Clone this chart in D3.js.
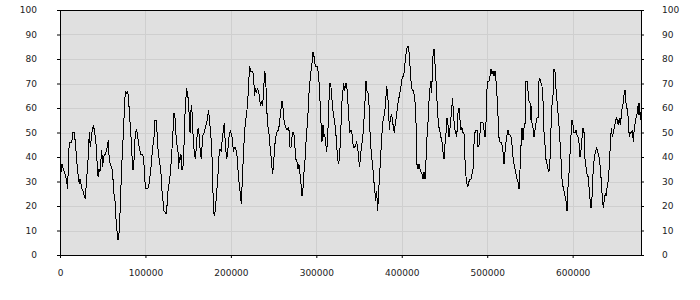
<!DOCTYPE html>
<meta charset="utf-8">
<head>
    <style>
     body { margin: 0; background: #fff; }
     #chart text { font-family: "DejaVu Sans", Verdana, sans-serif; font-size: 9px; fill: #222; }
    </style>
</head>
<body>
    <div id="chart"></div>
</body>
<script src="https://d3js.org/d3.v7.min.js"></script>
<script>

 // x positions of the series
 var xValues = [
     400, 2300, 3900, 5900, 7400, 9000, 10100, 11300, 13700, 15200, 16800, 17900, 19100, 20300, 21900, 22600,
     23400, 24600, 25800, 27300, 28500, 29700, 30400, 32000, 33200, 34300, 35500, 36700, 37800, 39000, 40200,
     41400, 42500, 43700, 44500, 45600, 46800, 48000, 48800, 49900, 51100, 52700, 53800, 55400, 56600, 57700,
     59300, 60900, 62000, 63200, 64400, 65500, 66700, 67900, 69400,
     70600, 71800, 73300, 74500, 75700, 76900, 78000, 79200, 80400, 81500, 82700, 83900, 85100, 86200, 87000,
     88200, 89300, 90500, 91700, 93200, 94800, 96400, 97900, 99100, 100300, 102600, 104200, 105700, 107300,
     108500, 110000, 111200, 112800, 113900, 115100, 116700, 118200, 119400, 120600, 121700, 124100, 125200,
     126400, 127600, 129100, 130700, 132300, 133400, 134600, 135800, 136900, 138100, 138900, 139700, 140500,
     141600, 142400, 143600, 144700, 145900, 147100, 148300, 149400, 150600, 151400, 152200, 152900, 154100,
     154900, 156100, 157200, 158400, 159600, 160700, 161900, 163100, 164200, 165400, 166200, 167400, 168900,
     170100, 171700, 172800, 173600, 174800, 176000, 177100, 178300, 179500, 180600,
     181800, 183000, 184100, 185300, 186500, 187700, 188800, 190000, 191200, 192300, 193500, 195100, 196200,
     197800, 199400, 200500, 201700, 202900, 204000, 205200, 206800, 207900, 209100, 210700, 212200, 213400,
     214600, 215700, 216900, 218500, 219600, 220800, 222000, 223200, 224300, 225500, 226700, 227500, 228600,
     229800, 231000, 232500, 233700, 234900, 236000, 237200, 238400, 239500, 240700, 241900, 243100, 244200,
     245400, 246600, 247700, 248900, 250100, 251200, 252400, 253600, 254800, 255900, 257100, 258300, 259400,
     260600, 261800, 263300, 264500, 265700, 266900, 268000, 269200, 270400, 271500, 272700, 273900, 275000,
     276200, 277400, 278600, 279700, 280900, 282100, 283200, 284400, 285600, 286800, 287900, 289100, 290300,
     291400, 292600, 293800, 294900, 296100, 297300, 298500, 299600, 300800, 302000, 303100, 304300, 305500,
     306600, 307800, 308600, 309800, 310900, 312100, 313300, 314500, 315600, 316800, 318000, 319100, 320300,
     321500, 322600, 323800, 325000, 326200, 327300, 328500, 329700, 330800, 332000, 333200, 334300, 335500,
     336700, 337900, 339000, 340200, 341400, 342500, 343700, 344900, 346100, 347200, 348400, 349600, 350700,
     351900, 353100, 354200, 355400, 356600,
     358100, 359300, 360900, 361700, 362400, 363600, 364800, 365900, 367100, 368300, 369500, 370600, 371800,
     373000, 374100, 375300, 376500, 377700, 378800, 380000, 381200, 382300, 383500, 384700, 385500, 386600,
     387800, 389000, 390100, 391300, 392500, 393600, 394800, 396000, 397200, 398300, 399500, 400700, 401800,
     403000, 404200, 405400, 406500, 407700, 408900, 410000, 411200, 412400, 413500, 414700, 415900, 417100,
     417800, 419000, 420200, 421300, 422500, 423700, 424900, 426000, 427200, 428400, 429500, 430700, 431900,
     433000, 434200, 435000, 436200, 437300, 438100, 438900, 440100, 441200, 442400, 443600, 444800, 445900,
     447100, 448300, 449400, 450600, 451800, 452900, 454100, 455300, 456500, 457600, 458800, 459600, 460400,
     461500, 462700, 463900, 465000, 465800, 467000, 468200, 469300, 470500, 471700, 472800, 474000, 475200,
     476400, 477500, 478700, 479900, 481000, 482200, 483400, 484500, 485700, 486900, 488100, 489200, 490400,
     491600, 492700, 493900, 495100, 496300, 497400, 498600, 499800, 500900, 502100, 503300, 504400, 505600,
     506800, 508000, 509100, 510300, 511500, 512600, 513800, 515000, 516100, 517300, 518500, 519700, 520800,
     522000, 523200, 524300, 525500, 526700, 527900, 529000, 530200, 531400, 532500, 533700, 534900, 536000,
     537200, 538400, 539600, 540700, 541900, 543100,
     544200, 545400, 546600, 547700, 548900, 550100, 550900, 551600, 552400, 553600, 554800, 555900, 557100,
     558300, 559500, 560600, 561800, 563000, 564100, 565300, 566500, 567600, 568800, 570000, 571200, 572300,
     573500, 574700, 575800, 577000, 578200, 579300, 580500, 581700, 582900, 584000, 585200, 586400, 587500,
     588700, 589900, 591100, 592200, 593400, 594600, 595700, 596900, 598100, 599200, 600400, 601600, 602800,
     603900, 605100, 606300, 607400, 608600, 609800, 611000, 612100, 613300, 614500, 615600, 616800, 618000,
     619100, 620300, 621500, 622700, 623400, 624600, 625800, 626900, 628100, 629300, 630500, 631600, 632800,
     634000, 635100, 635900, 637100, 638300, 639400, 640600, 641800, 642900, 644100, 645300, 646500, 647600,
     648800, 650000, 651100, 652300, 653500, 654600, 655800, 657000, 658200, 659300, 660500, 661700, 662800,
     664000, 665200, 666300, 667500, 668700, 669900, 671000, 672200, 673400, 674500, 675700, 676900, 677700,
     678400, 679200
 ];

 // values of the series (0-100)
 var yValues = [
     32, 37, 35, 33, 31, 27, 42, 46, 46, 50, 50, 46, 41, 35, 31, 29,
     31, 29, 27, 26, 24, 23, 27, 35, 41, 50, 44, 48, 51, 53, 51,
     48, 44, 36, 32, 35, 34, 39, 43, 36, 40, 41, 42, 44, 47, 38,
     37, 35, 31, 25, 22, 15, 10, 6, 10,
     20, 33, 44, 52, 63, 67, 66, 67, 63, 56, 51, 43, 35, 35, 42,
     50, 51, 50, 46, 43, 41, 41, 40, 31, 27, 27, 29, 33, 39,
     44, 48, 55, 55, 48, 41, 38, 33, 26, 22, 18, 17, 20,
     26, 29, 33, 41, 51, 58, 56, 49, 45, 42, 35, 40, 39,
     41, 35, 35, 39, 55, 63, 68, 65, 63, 54, 50, 58, 61,
     56, 46, 42, 39, 44, 50, 52, 48, 42, 39, 44, 49, 50,
     52, 54, 56, 59, 56, 51, 46, 37, 19, 16,
     18, 24, 29, 35, 43, 43, 42, 48, 51, 54, 45, 39, 42,
     48, 51, 49, 48, 42, 44, 44, 42, 37, 31, 26, 21, 31,
     40, 48, 54, 58, 62, 70, 77, 75, 75, 75, 73, 65, 68,
     66, 68, 67, 63, 61, 63, 61, 68, 75, 73, 60, 53, 51,
     46, 42, 37, 33, 38, 44, 48, 50, 51, 51, 55, 58, 63,
     62, 56, 53, 52, 51, 52, 51, 44, 44, 48, 50, 49, 44,
     39, 38, 35, 37, 33, 29, 24, 27, 34, 39, 46, 52, 58,
     66, 71, 75, 78, 83, 81, 78, 77, 77, 75, 71, 63, 54,
     46, 53, 48, 49, 46, 42, 48, 60, 70, 70, 65, 60, 57,
     54, 51, 45, 39, 37, 41, 49, 61, 66, 70, 67, 70, 70,
     64, 57, 50, 51, 51, 46, 44, 44, 45, 46, 44, 39, 36,
     41, 45, 47, 53, 60,
     71, 67, 66, 61, 53, 45, 40, 37, 31, 27, 22, 26, 18,
     26, 33, 40, 48, 54, 56, 58, 63, 69, 66, 58, 51, 56,
     57, 56, 52, 50, 54, 56, 60, 63, 65, 67, 70, 73, 73,
     75, 80, 83, 85, 85, 82, 75, 69, 67, 67, 65, 61, 50,
     37, 35, 37, 35, 34, 33, 31, 34, 31, 39, 48, 54, 63,
     68, 71, 66, 80, 84, 84, 78, 71, 63, 56, 52, 50, 48,
     46, 42, 39, 45, 50, 56, 53, 48, 52, 56, 61, 64, 58,
     53, 50, 49, 51, 58, 60, 55, 51, 52, 50, 50, 39, 32,
     29, 28, 30, 31, 31, 33, 35, 45, 50, 51, 51, 44, 45,
     50, 54, 54, 54, 51, 48, 54, 68, 71, 71, 73, 76, 74,
     75, 73, 75, 71, 65, 57, 48, 46, 46, 45, 42, 37, 42,
     46, 49, 51, 49, 49, 48, 45, 40, 37, 35, 33, 31, 30,
     27, 35, 45, 52, 47, 52,
     53, 71, 71, 67, 63, 62, 55, 61, 54, 52, 48, 51, 54,
     56, 56, 71, 72, 70, 69, 63, 50, 45, 39, 37, 35, 34,
     39, 52, 61, 65, 76, 75, 68, 63, 58, 53, 46, 39, 31,
     28, 26, 24, 22, 18, 28, 33, 41, 49, 55, 53, 50, 50,
     51, 49, 48, 46, 40, 43, 48, 52, 50, 39, 36, 33, 32,
     28, 23, 19, 24, 31, 37, 41, 42, 44, 42, 41, 38, 34,
     27, 22, 19, 23, 25, 24, 29, 30, 37, 45, 52, 48, 50,
     52, 54, 56, 55, 53, 56, 53, 57, 61, 62, 67, 67, 60,
     60, 55, 48, 50, 50, 51, 46, 52, 54, 57, 58, 62, 57,
     62, 55
 ];

 var xMax = 680000;
 var xTicks = [0, 100000, 200000, 300000, 400000, 500000, 600000];
 var yTicks = [0, 10, 20, 30, 40, 50, 60, 70, 80, 90, 100];

 var width = 700,
     height = 300,
     margin = {top: 10, right: 59, bottom: 45, left: 60};
 var w = width - margin.left - margin.right,
     h = height - margin.top - margin.bottom;

 var points = xValues.map((x, i) => ({x: x, y: yValues[i]}));

 var svg = d3.select("#chart")
             .append("svg")
             .attr("width", width)
             .attr("height", height);

 var g = svg.append("g")
            .attr("transform", `translate(${margin.left}, ${margin.top})`);

 var x = d3.scaleLinear().domain([0, xMax]).range([0, w]);
 var y = d3.scaleLinear().domain([0, 100]).range([h, 0]);

 // plot background
 g.append("rect")
  .attr("width", w)
  .attr("height", h)
  .attr("fill", "#e0e0e0");

 // grid
 g.append("g")
  .selectAll("line")
  .data(yTicks.slice(1, -1))
  .join("line")
  .attr("x1", 0)
  .attr("x2", w)
  .attr("y1", d => Math.round(y(d)) + 0.5)
  .attr("y2", d => Math.round(y(d)) + 0.5)
  .attr("stroke", "#cfcfcf");

 g.append("g")
  .selectAll("line")
  .data(xTicks.slice(1))
  .join("line")
  .attr("x1", d => Math.round(x(d)) + 0.5)
  .attr("x2", d => Math.round(x(d)) + 0.5)
  .attr("y1", 0)
  .attr("y2", h)
  .attr("stroke", "#cfcfcf");

 // the series, drawn aliased like the original
 var line = d3.line()
              .x(d => x(d.x))
              .y(d => y(d.y));

 g.append("path")
  .datum(points)
  .attr("fill", "none")
  .attr("stroke", "#000")
  .attr("stroke-width", 1)
  .attr("shape-rendering", "crispEdges")
  .attr("d", line);

 // frame
 g.append("rect")
  .attr("x", 0.5)
  .attr("y", 0.5)
  .attr("width", w)
  .attr("height", h)
  .attr("fill", "none")
  .attr("stroke", "#000");

 // axes
 g.append("g")
  .attr("transform", `translate(0, ${h})`)
  .call(d3.axisBottom(x).tickValues(xTicks).tickFormat(d3.format("d")).tickSize(3).tickPadding(12))
  .call(a => a.select(".domain").remove());

 g.append("g")
  .call(d3.axisLeft(y).tickValues(yTicks).tickSize(3).tickPadding(20))
  .call(a => a.select(".domain").remove());

 g.append("g")
  .attr("transform", `translate(${w}, 0)`)
  .call(d3.axisRight(y).tickValues(yTicks).tickSize(3).tickPadding(18))
  .call(a => a.select(".domain").remove());

 g.selectAll(".tick text").attr("fill", "#222").attr("font-family", null).attr("font-size", null);

</script>
